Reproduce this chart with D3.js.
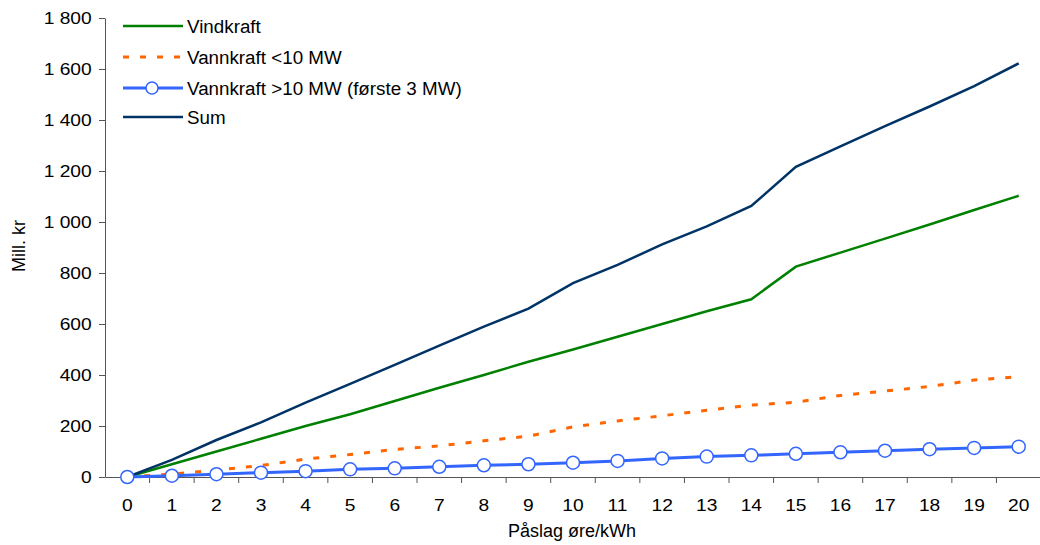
<!DOCTYPE html>
<html><head><meta charset="utf-8">
<script src="https://cdn.jsdelivr.net/npm/d3@7"></script>
<style>body{margin:0;background:#fff;font-family:"Liberation Sans",Arial,sans-serif;}</style>
</head><body><svg id="c" width="1040" height="545"></svg>
<script>
const categories = [0,1,2,3,4,5,6,7,8,9,10,11,12,13,14,15,16,17,18,19,20];
const vindkraft = [0,50,100,150,200,246,298,350,400,452,500,550,600,650,697,825,880,935,990,1047,1103];
const vannSmall = [0,12,27,45,70,88,108,122,142,160,197,220,240,262,282,293,320,337,355,380,393];
const vannLarge = [0,5,11,17,23,30,34,40,46,50,56,63,73,80,85,91,97,103,109,114,119];
const sum = [0,67,145,214,292,365,440,515,590,660,760,832,912,983,1063,1216,1297,1376,1453,1533,1622];
const yTicks = [0,200,400,600,800,1000,1200,1400,1600,1800];
const seriesNames = ["Vindkraft","Vannkraft <10 MW","Vannkraft >10 MW (første 3 MW)","Sum"];

const svg = d3.select("#c");
const L = 105, R = 1041, T = 18, B = 477;
const x = d3.scaleBand().domain(categories).range([L, R]).padding(0);
const y = d3.scaleLinear().domain([0,1800]).range([B, T]);
const fmt = v => d3.format(",")(v).replace(/,/g, " ");
const axisColor = "#555";
const FONT = "Liberation Sans, Arial, sans-serif";

// y axis
const ya = svg.append("g").attr("transform",`translate(${L},0)`)
  .call(d3.axisLeft(y).tickValues(yTicks).tickFormat(fmt).tickSize(6).tickSizeOuter(0));
ya.select(".domain").attr("stroke",axisColor);
ya.selectAll(".tick line").attr("stroke",axisColor);
ya.selectAll(".tick text").attr("font-size",16).attr("font-family",FONT).attr("fill","#000")
  .attr("x",0).attr("dy",null).attr("y",5.5).attr("transform","translate(-13.3,0) scale(1.2,1)");

// x axis
const xa = svg.append("g").attr("transform",`translate(0,${B})`)
  .call(d3.axisBottom(x).tickSize(0).tickSizeOuter(0));
xa.select(".domain").attr("stroke",axisColor);
xa.selectAll(".tick text").attr("font-size",16).attr("font-family",FONT).attr("fill","#000")
  .attr("y",0).attr("dy",null).attr("transform","translate(0,34) scale(1.2,1)");
// category separator ticks
const bounds = categories.map(c => x(c)).concat([x(categories[categories.length-1]) + x.bandwidth()]);
svg.append("g").selectAll("line").data(bounds.slice(1,-1)).join("line")
  .attr("x1",d=>d).attr("x2",d=>d).attr("y1",B).attr("y2",B+6).attr("stroke",axisColor);

const cx = c => x(c) + x.bandwidth()/2;
const line = vals => d3.line().x((d,i)=>cx(categories[i])).y(d=>y(d))(vals);

const g = svg.append("g");
g.append("path").attr("d",line(vindkraft)).attr("fill","none").attr("stroke","#008000").attr("stroke-width",2.5);
g.append("path").attr("d",line(vannSmall)).attr("fill","none").attr("stroke","#FF6600").attr("stroke-width",3).attr("stroke-dasharray","6,11");
g.append("path").attr("d",line(sum)).attr("fill","none").attr("stroke","#003366").attr("stroke-width",2.5);
g.append("path").attr("d",line(vannLarge)).attr("fill","none").attr("stroke","#3366FF").attr("stroke-width",3);
g.selectAll("circle").data(vannLarge).join("circle")
  .attr("cx",(d,i)=>cx(categories[i])).attr("cy",d=>y(d)).attr("r",6.5)
  .attr("fill","#fff").attr("stroke","#3366FF").attr("stroke-width",1.5);

// legend
const legY = [26,57,88,117];
const lg = svg.append("g");
const styles = [
  {c:"#008000",w:2.5,d:null},
  {c:"#FF6600",w:3,d:"6,11"},
  {c:"#3366FF",w:3,d:null,m:true},
  {c:"#003366",w:2.5,d:null}
];
seriesNames.forEach((n,i)=>{
  const s = styles[i];
  const l = lg.append("line").attr("x1",123).attr("x2",183).attr("y1",legY[i]).attr("y2",legY[i])
    .attr("stroke",s.c).attr("stroke-width",s.w);
  if (s.d) l.attr("stroke-dasharray",s.d);
  if (s.m) lg.append("circle").attr("cx",152).attr("cy",legY[i]).attr("r",6).attr("fill","#fff").attr("stroke",s.c).attr("stroke-width",1.5);
  lg.append("text").attr("x",187).attr("y",legY[i]+6.5).attr("font-size",18.8).attr("font-family",FONT).attr("fill","#000").text(n);
});

// axis titles
svg.append("text").attr("transform","translate(25,246) rotate(-90)").attr("text-anchor","middle")
  .attr("font-size",18).attr("font-family",FONT).attr("fill","#000").text("Mill. kr");
svg.append("text").attr("x",572).attr("y",537).attr("text-anchor","middle")
  .attr("font-size",18).attr("font-family",FONT).attr("fill","#000").text("Påslag øre/kWh");
</script></body></html>
